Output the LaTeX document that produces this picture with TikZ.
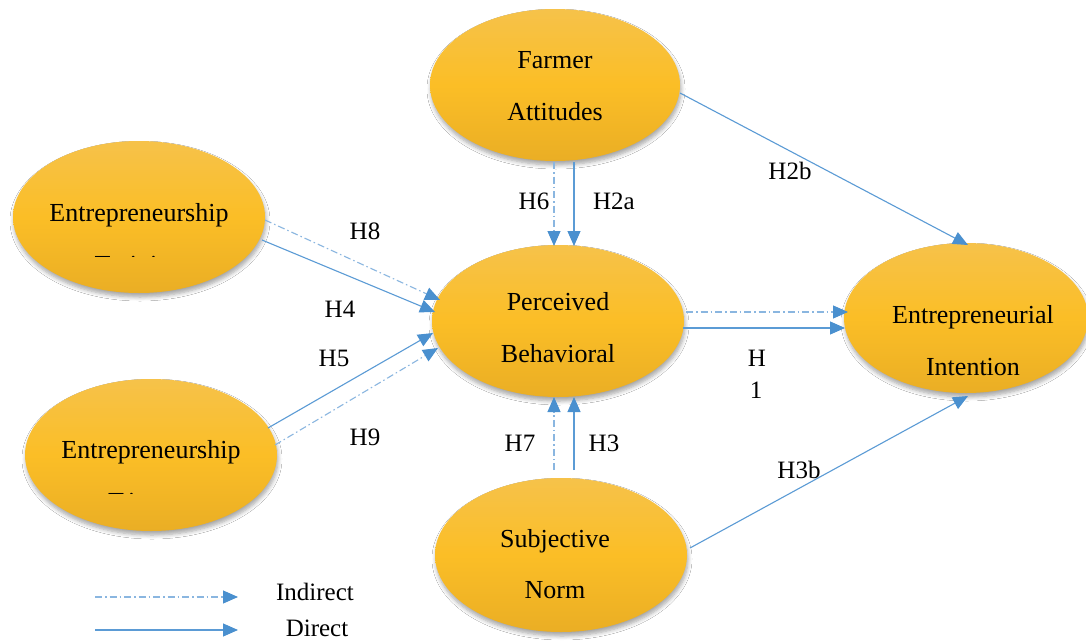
\documentclass[tikz,border=0pt]{standalone}
\usepackage{fontspec}
\setmainfont{Liberation Serif}
\usetikzlibrary{shapes.geometric,arrows.meta,calc,shadows.blur}
\definecolor{lineblue}{HTML}{5B9BD5}
\definecolor{dashblue}{HTML}{8AB6E0}
\definecolor{tipblue}{HTML}{4A90CF}
\definecolor{ovtop}{HTML}{F6C24A}
\definecolor{ovmid}{HTML}{FBBE26}
\definecolor{ovbot}{HTML}{EAAE25}
\tikzset{
  oval/.style={ellipse, draw=none, minimum width=252pt, minimum height=152pt,
    top color=ovtop, bottom color=ovbot, middle color=ovmid,
    blur shadow={shadow xshift=1pt, shadow yshift=-4pt, shadow blur steps=6, shadow opacity=35, shadow blur radius=4pt}},
  ovtext/.style={anchor=base, inner sep=0pt, font=\fontsize{26}{30}\selectfont},
  hlab/.style={inner sep=0pt, font=\fontsize{25}{30}\selectfont},
  direct/.style={-{Triangle[length=15pt,width=13pt,color=tipblue,fill=tipblue]}, draw=lineblue, line width=1.1pt},
  indirect/.style={-{Triangle[length=15pt,width=13pt,color=tipblue,fill=tipblue]}, draw=dashblue, line width=1.1pt, dash pattern=on 7pt off 3pt on 1.5pt off 3pt}
}
\begin{document}
\begin{tikzpicture}[x=1pt,y=-1pt]
\useasboundingbox (0,0) rectangle (1086,640);
\fill[white] (0,0) rectangle (1086,640);

% ovals
\node[oval, minimum width=250pt, minimum height=152pt] (fa) at (555,85) {};
\node[oval] (et) at (139,217) {};
\node[oval] (pb) at (558,321) {};
\node[oval, minimum width=244pt, minimum height=150pt] (ei) at (966,318) {};
\node[oval] (ee) at (151,455) {};
\node[oval, minimum height=154pt] (sn) at (561,555) {};

% oval texts
\node[ovtext] (fa1) at (555,68) {Farmer};
\node[ovtext] (fa2) at (555,120) {Attitudes};
\node[ovtext] (et1) at (139,221) {Entrepreneurship};
\begin{scope}
  \clip (20,230) rectangle (260,256);
  \node[ovtext] (et2) at (139,273) {Training};
\end{scope}
\node[ovtext] (pb1) at (558,310) {Perceived};
\node[ovtext] (pb2) at (558,362) {Behavioral};
\node[ovtext] (ei1) at (973,323) {Entrepreneurial};
\node[ovtext] (ei2) at (973,375) {Intention};
\node[ovtext] (ee1) at (151,458) {Entrepreneurship};
\begin{scope}
  \clip (30,470) rectangle (270,493);
  \node[ovtext, anchor=base west] (ee2) at (108,510) {T\hspace{4pt}i};
\end{scope}
\node[ovtext] (sn1) at (555,547) {Subjective};
\node[ovtext] (sn2) at (555,598) {Norm};

% connectors
\draw[indirect] ($(et.center)+(126,3)$) -- ($(pb.center)+(-118,-21)$);
\draw[direct]   ($(et.center)+(123,23)$) -- ($(pb.center)+(-123,-9)$);
\draw[direct]   ($(ee.center)+(117,-27)$) -- ($(pb.center)+(-125,12)$);
\draw[indirect] ($(ee.center)+(124,-10)$) -- ($(pb.center)+(-120,27)$);
\draw[indirect] ($(fa.center)+(-1,77)$) -- ($(pb.center)+(-4,-75)$);
\draw[direct]   ($(fa.center)+(19,77)$) -- ($(pb.center)+(16,-75)$);
\draw[indirect] ($(sn.center)+(-7,-85)$) -- ($(pb.center)+(-4,76)$);
\draw[direct]   ($(sn.center)+(13,-85)$) -- ($(pb.center)+(16,76)$);
\draw[indirect] ($(pb.center)+(128,-9)$) -- ($(ei.center)+(-118,-6)$);
\draw[direct]   ($(pb.center)+(125,7)$) -- ($(ei.center)+(-121,10)$);
\draw[direct]   ($(fa.center)+(125,8)$) -- ($(ei.center)+(2,-73)$);
\draw[direct]   ($(sn.center)+(129,-7)$) -- ($(ei.center)+(2,78)$);

% labels
\node[hlab] (h8) at (365,231) {H8};
\node[hlab] (h4) at (340,309) {H4};
\node[hlab] (h5) at (334,358) {H5};
\node[hlab] (h9) at (365,437) {H9};
\node[hlab] (h6) at (534,201) {H6};
\node[hlab] (h2a) at (614,201) {H2a};
\node[hlab] (h2b) at (790,171) {H2b};
\node[hlab] (h1a) at (757,358) {H};
\node[hlab] (h1b) at (756,390) {1};
\node[hlab] (h7) at (520,443) {H7};
\node[hlab] (h3) at (604,443) {H3};
\node[hlab] (h3b) at (799,470) {H3b};

% legend
\coordinate (li1) at (95,597);
\coordinate (li2) at (238,597);
\coordinate (ld1) at (95,630);
\coordinate (ld2) at (238,630);
\draw[indirect] (li1) -- (li2);
\draw[direct] (ld1) -- (ld2);
\node[hlab] (lind) at (315,592) {Indirect};
\node[hlab] (ldir) at (317,628) {Direct};
\end{tikzpicture}
\end{document}
